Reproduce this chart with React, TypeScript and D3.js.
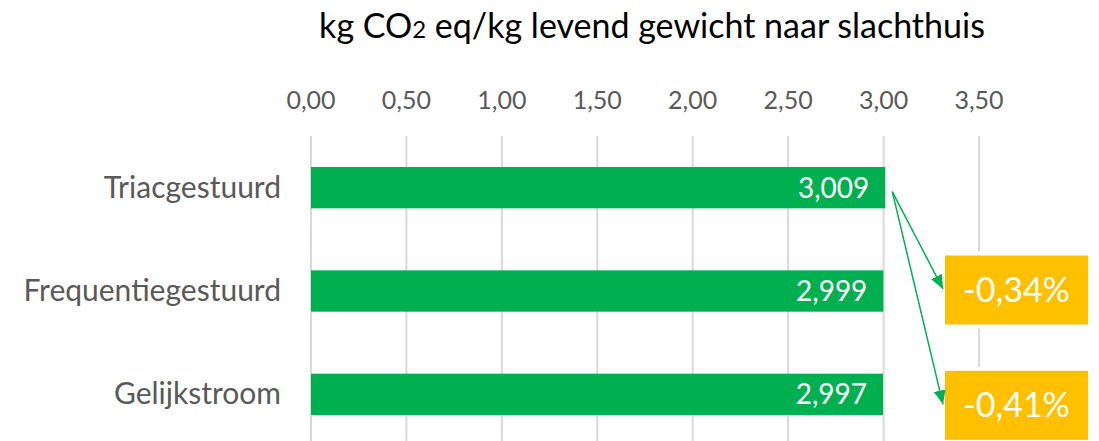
import React from "react";
import * as d3 from "d3";

const categories = ["Triacgestuurd", "Frequentiegestuurd", "Gelijkstroom"];
const values = [3.009, 2.999, 2.997];
const ticks = [0, 0.5, 1, 1.5, 2, 2.5, 3, 3.5];
const changeLabels = ["-0,34%", "-0,41%"];
const changeTargets = ["Frequentiegestuurd", "Gelijkstroom"];

const W = 1099;
const H = 441;
const FONT = "Lato, 'Open Sans', sans-serif";
const GREEN = "#00B050";
const GOLD = "#FFC000";
const BOX_OFFSETS = [-1, 11];

const fmt = (v: number, d: number) => v.toFixed(d).replace(".", ",");

export default function App() {
  const x = d3.scaleLinear().domain([0, 3.5]).range([311, 979]);
  const y = d3
    .scaleBand<string>()
    .domain(categories)
    .range([136, 446])
    .paddingInner(0.6)
    .paddingOuter(0.3);
  const bw = y.bandwidth();

  const startX = x(values[0]) + 7;
  const startY = (y(categories[0]) as number) + bw / 2 + 4;
  const boxX = 943;
  const boxW = 147;
  const boxH = 73;

  return (
    <svg
      width={W}
      height={H}
      style={{ position: "absolute", left: 0, top: 0, background: "#fff" }}
      fontFamily={FONT}
    >
      <defs>
        <marker
          id="ah"
          viewBox="0 0 14 12"
          refX="14"
          refY="6"
          markerWidth="14"
          markerHeight="12"
          markerUnits="userSpaceOnUse"
          orient="auto"
        >
          <path d="M0,0 L14,6 L0,12 z" fill={GREEN} />
        </marker>
      </defs>
      <text x={652} y={38} textAnchor="middle" fontSize={34} fill="#000">
        kg CO<tspan fontSize={24}>2</tspan> eq/kg levend gewicht naar slachthuis
      </text>
      {ticks.map((t) => (
        <g key={t}>
          <line x1={x(t)} x2={x(t)} y1={136} y2={H} stroke="#D9D9D9" strokeWidth={2} />
          <text x={x(t)} y={109} textAnchor="middle" fontSize={25} fill="#595959">
            {fmt(t, 2)}
          </text>
        </g>
      ))}
      {categories.map((c, i) => {
        const yc = (y(c) as number) + bw / 2;
        return (
          <g key={c}>
            <rect x={x(0)} y={y(c)} width={x(values[i]) - x(0)} height={bw} fill={GREEN} />
            <text x={281} y={yc + 10} textAnchor="end" fontSize={30} fill="#595959">
              {c}
            </text>
            <text x={x(values[i]) - 16} y={yc + 10} textAnchor="end" fontSize={28} fill="#fff">
              {fmt(values[i], 3)}
            </text>
          </g>
        );
      })}
      {changeTargets.map((c, i) => {
        const yc = (y(c) as number) + bw / 2;
        const by = yc - boxH / 2 + BOX_OFFSETS[i];
        return (
          <g key={c}>
            <rect x={boxX} y={by} width={boxW} height={boxH} fill={GOLD} stroke="#fff" strokeWidth={4} />
            <text x={boxX + boxW / 2} y={by + boxH / 2 + 12} textAnchor="middle" fontSize={34} fill="#fff">
              {changeLabels[i]}
            </text>
            <line
              x1={startX}
              y1={startY}
              x2={boxX}
              y2={by + boxH / 2 - (i === 0 ? 1 : 1)}
              stroke={GREEN}
              strokeWidth={1.5}
              markerEnd="url(#ah)"
            />
          </g>
        );
      })}
    </svg>
  );
}
